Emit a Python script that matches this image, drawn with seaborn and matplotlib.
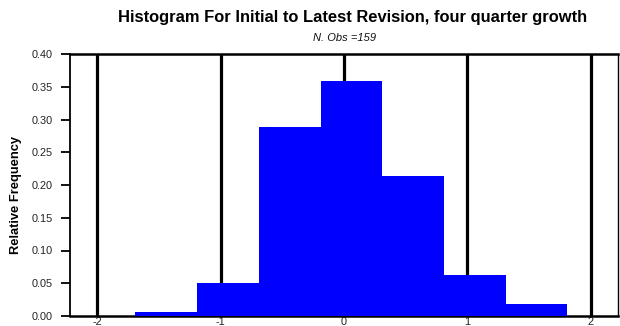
import numpy as np
import pandas as pd
import matplotlib
matplotlib.use("Agg")
import matplotlib.pyplot as plt
import seaborn as sns

# Histogram of revisions (initial to latest), four-quarter growth
bin_edges = [-1.69, -1.19, -0.69, -0.19, 0.31, 0.81, 1.31, 1.81]
bin_counts = [1, 8, 46, 57, 34, 10, 3]
n_obs = 159
y_ticks = [0.00, 0.05, 0.10, 0.15, 0.20, 0.25, 0.30, 0.35, 0.40]
x_ticks = [-2, -1, 0, 1, 2]

sns.set_theme(style="white")
plt.rcParams["font.family"] = ["Liberation Sans", "DejaVu Sans"]

edges = np.array(bin_edges)
centers = (edges[:-1] + edges[1:]) / 2
df = pd.DataFrame({"growth": centers,
                   "rel_freq": np.array(bin_counts) / n_obs})

fig = plt.figure(figsize=(6.2, 3.26), dpi=100)
ax = fig.add_axes([70 / 620, 1 - 316 / 326, 548 / 620, 262 / 326])

sns.histplot(data=df, x="growth", weights="rel_freq", bins=list(bin_edges),
             color=(0, 0, 1), alpha=1, edgecolor="none", linewidth=0,
             ax=ax, zorder=3)

ax.set_xlim(-2.22, 2.22)
ax.set_ylim(0, 0.40)
ax.set_xticks(x_ticks)
ax.set_xticklabels([str(t) for t in x_ticks])
ax.set_yticks(y_ticks)
ax.set_yticklabels([f"{t:.2f}" for t in y_ticks])

ax.set_axisbelow(True)
ax.grid(axis="x", color="black", linewidth=2.3)
ax.grid(axis="y", visible=False)

for side, lw in (("left", 1.3), ("bottom", 1.8), ("top", 1.8), ("right", 1.0)):
    ax.spines[side].set_visible(True)
    ax.spines[side].set_color("black")
    ax.spines[side].set_linewidth(lw)
ax.spines["bottom"].set_zorder(2)

ax.tick_params(axis="y", which="major", direction="out", length=6.5, width=1.3,
               color="black", labelsize=7.8, labelcolor="#222222", pad=6, left=True)
ax.tick_params(axis="x", which="major", length=0, labelsize=7.8,
               labelcolor="#222222", pad=1)

ax.set_xlabel("")
ax.set_ylabel("")
fig.text(16 / 620, 1 - 195 / 326, "Relative Frequency", rotation=90,
         ha="center", va="center", fontsize=9.3, fontweight="bold", color="black")

fig.text(0.568, 0.945, "Histogram For Initial to Latest Revision, four quarter growth",
         ha="center", va="center", fontsize=11.9, fontweight="bold", color="black")
fig.text(0.555, 0.884, f"N. Obs ={n_obs}", ha="center", va="center",
         fontsize=8, fontstyle="italic", color="#111111")

fig.savefig("out.png", dpi=100)
